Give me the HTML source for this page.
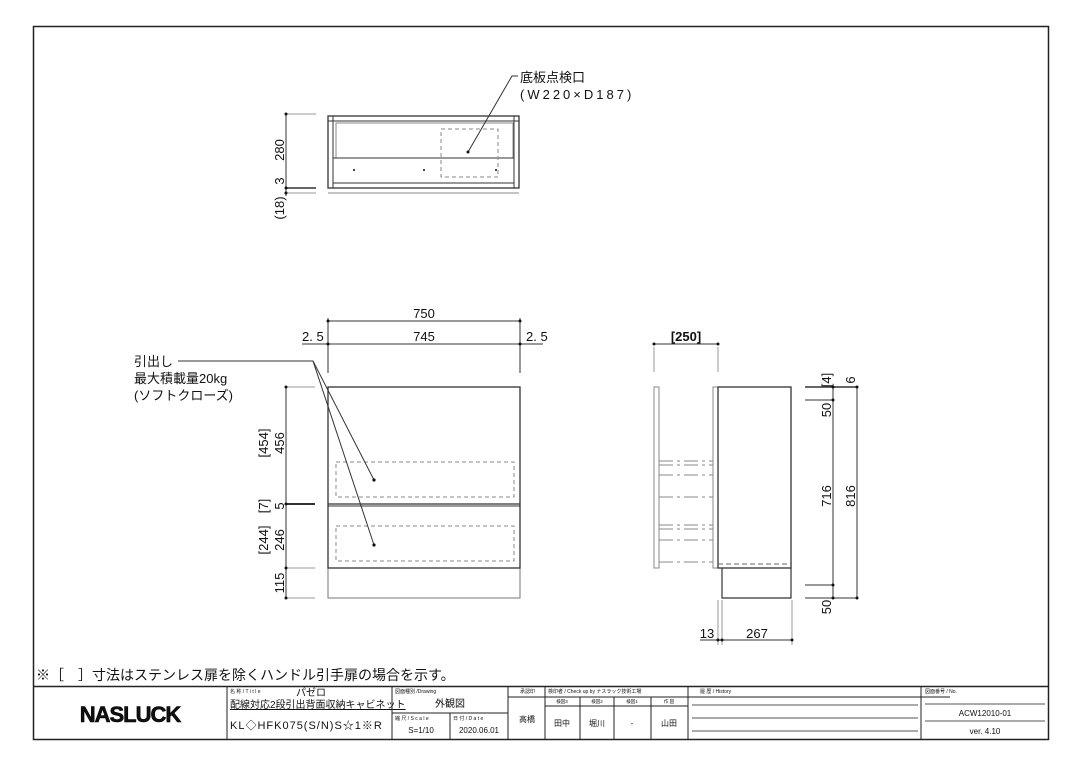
<!DOCTYPE html>
<html><head><meta charset="utf-8"><style>
html,body{margin:0;padding:0;background:#fff;}
svg{display:block;}
text{font-family:"Liberation Sans","Noto Sans CJK JP",sans-serif;fill:#111;}
</style></head><body>
<svg width="1080" height="764" viewBox="0 0 1080 764" xmlns="http://www.w3.org/2000/svg">
<rect x="0" y="0" width="1080" height="764" fill="#fff"/>
<rect x="33.5" y="26.5" width="1015" height="713" fill="none" stroke="#222" stroke-width="1.5"/>

<!-- TOP VIEW -->
<g stroke="#333" fill="none" stroke-width="1">
<rect x="328" y="116" width="191" height="72" stroke-width="1.3"/>
<line x1="328" y1="121" x2="519" y2="121"/>
<line x1="333" y1="116" x2="333" y2="188"/>
<line x1="514" y1="116" x2="514" y2="188"/>
<rect x="336" y="123" width="177" height="35" stroke="#888"/>
<line x1="333" y1="158" x2="514" y2="158"/>
<line x1="333" y1="183" x2="514" y2="183"/>
<line x1="328" y1="193" x2="519" y2="193" stroke="#888"/>
<rect x="441" y="129" width="57" height="48" stroke="#888" stroke-dasharray="4,3"/>
<polyline points="468,152 512,76 518,76" stroke="#333"/>
<line x1="286" y1="114" x2="286" y2="196"/>
<line x1="286" y1="114" x2="316" y2="114" stroke="#999"/>
<line x1="286" y1="188" x2="316" y2="188" stroke-width="1.5"/>
<line x1="286" y1="193" x2="316" y2="193" stroke="#999"/>
</g>
<g fill="#111"><circle cx="468" cy="152" r="1.5"/><circle cx="354" cy="170" r="1"/><circle cx="424" cy="170" r="1"/><circle cx="496" cy="170" r="1"/>
<circle cx="286" cy="114" r="1.5"/><circle cx="286" cy="188" r="1.5"/><circle cx="286" cy="193" r="1.5"/></g>
<text x="520" y="82" font-size="13">底板点検口</text>
<text x="520" y="99" font-size="13" letter-spacing="3">(W220×D187)</text>
<text transform="translate(284,150) rotate(-90)" font-size="13" text-anchor="middle">280</text>
<text transform="translate(284,181) rotate(-90)" font-size="13" text-anchor="middle">3</text>
<text transform="translate(284,208) rotate(-90)" font-size="13" text-anchor="middle">(18)</text>

<!-- FRONT VIEW -->
<g stroke="#333" fill="none" stroke-width="1">
<rect x="328" y="387" width="192" height="211" stroke="#777"/>
<rect x="328" y="387" width="192" height="181" stroke-width="1.3"/>
<line x1="328" y1="504" x2="520" y2="504" stroke-width="1.3"/>
<line x1="328" y1="506" x2="520" y2="506" stroke-width="1"/>
<rect x="336" y="462" width="178" height="35" stroke="#888" stroke-dasharray="4,3"/>
<rect x="336" y="526" width="178" height="35" stroke="#888" stroke-dasharray="4,3"/>
<line x1="328" y1="321" x2="520" y2="321"/>
<line x1="302" y1="344" x2="543" y2="344"/>
<line x1="328" y1="318" x2="328" y2="373"/>
<line x1="520" y1="318" x2="520" y2="373"/>
<polyline points="178,361 313,361 374,480"/>
<line x1="313" y1="361" x2="374" y2="545"/>
<line x1="286" y1="387" x2="286" y2="598"/>
<line x1="286" y1="387" x2="315" y2="387" stroke="#999"/>
<line x1="286" y1="504" x2="315" y2="504" stroke-width="2"/>
<line x1="286" y1="568" x2="315" y2="568" stroke="#999"/>
<line x1="286" y1="598" x2="315" y2="598" stroke="#999"/>
</g>
<g fill="#111"><circle cx="374" cy="480" r="1.6"/><circle cx="374" cy="545" r="1.6"/>
<circle cx="328" cy="321" r="1.5"/><circle cx="520" cy="321" r="1.5"/><circle cx="328" cy="344" r="1.5"/><circle cx="520" cy="344" r="1.5"/>
<circle cx="286" cy="387" r="1.5"/><circle cx="286" cy="504" r="1.5"/><circle cx="286" cy="568" r="1.5"/><circle cx="286" cy="598" r="1.5"/></g>
<text x="424" y="318" font-size="13" text-anchor="middle">750</text>
<text x="424" y="341" font-size="13" text-anchor="middle">745</text>
<text x="302" y="341" font-size="13">2. 5</text>
<text x="526" y="341" font-size="13">2. 5</text>
<text x="134" y="366" font-size="13">引出し</text>
<text x="134" y="383" font-size="13">最大積載量20kg</text>
<text x="134" y="400" font-size="13">(ソフトクローズ)</text>
<text transform="translate(284,443) rotate(-90)" font-size="13" text-anchor="middle">456</text>
<text transform="translate(268,443) rotate(-90)" font-size="13" text-anchor="middle">[454]</text>
<text transform="translate(284,506) rotate(-90)" font-size="13" text-anchor="middle">5</text>
<text transform="translate(268,506) rotate(-90)" font-size="13" text-anchor="middle">[7]</text>
<text transform="translate(284,540) rotate(-90)" font-size="13" text-anchor="middle">246</text>
<text transform="translate(268,540) rotate(-90)" font-size="13" text-anchor="middle">[244]</text>
<text transform="translate(284,583) rotate(-90)" font-size="13" text-anchor="middle">115</text>

<!-- SIDE VIEW -->
<g stroke="#333" fill="none" stroke-width="1">
<rect x="654" y="387" width="5" height="181" stroke="#888"/>
<rect x="713" y="387" width="5" height="181" stroke="#888"/>
<rect x="718" y="387" width="73" height="181" stroke-width="1.3"/>
<polyline points="722,568 722,598 791,598 791,568" stroke-width="1.2"/>
<line x1="718" y1="564" x2="791" y2="564" stroke-dasharray="5,3" stroke="#666"/>
<g stroke="#888" stroke-dasharray="14,4,3,4">
<line x1="659" y1="461" x2="713" y2="461"/><line x1="659" y1="465" x2="713" y2="465"/>
<line x1="659" y1="475" x2="713" y2="475"/><line x1="659" y1="497" x2="713" y2="497"/>
<line x1="659" y1="525" x2="713" y2="525"/><line x1="659" y1="529" x2="713" y2="529"/>
<line x1="659" y1="540" x2="713" y2="540"/><line x1="659" y1="562" x2="713" y2="562"/>
</g>
<line x1="654" y1="344" x2="718" y2="344"/>
<line x1="654" y1="347" x2="654" y2="372" stroke="#999"/>
<line x1="718" y1="347" x2="718" y2="372" stroke="#999"/>
<line x1="833" y1="387" x2="833" y2="598"/>
<line x1="857" y1="387" x2="857" y2="598"/>
<line x1="805" y1="387" x2="857" y2="387" stroke-width="1.6"/>
<line x1="805" y1="400" x2="833" y2="400"/>
<line x1="805" y1="585" x2="833" y2="585"/>
<line x1="805" y1="598" x2="857" y2="598"/>
<line x1="700" y1="640" x2="792" y2="640"/>
<line x1="718" y1="600" x2="718" y2="645" stroke="#999"/>
<line x1="722" y1="600" x2="722" y2="645" stroke="#999"/>
<line x1="792" y1="600" x2="792" y2="645" stroke="#999"/>
</g>
<g fill="#111"><circle cx="654" cy="344" r="1.5"/><circle cx="718" cy="344" r="1.5"/>
<circle cx="833" cy="387" r="1.5"/><circle cx="857" cy="387" r="1.5"/><circle cx="833" cy="400" r="1.5"/><circle cx="833" cy="585" r="1.5"/><circle cx="833" cy="598" r="1.5"/><circle cx="857" cy="598" r="1.5"/>
<circle cx="718" cy="640" r="1.5"/><circle cx="722" cy="640" r="1.5"/><circle cx="792" cy="640" r="1.5"/></g>
<text x="686" y="341" font-size="13" text-anchor="middle" font-weight="bold">[250]</text>
<text transform="translate(831,380) rotate(-90)" font-size="13" text-anchor="middle">[4]</text>
<text transform="translate(855,380) rotate(-90)" font-size="13" text-anchor="middle">6</text>
<text transform="translate(831,410) rotate(-90)" font-size="13" text-anchor="middle">50</text>
<text transform="translate(831,496) rotate(-90)" font-size="13" text-anchor="middle">716</text>
<text transform="translate(855,496) rotate(-90)" font-size="13" text-anchor="middle">816</text>
<text transform="translate(831,607) rotate(-90)" font-size="13" text-anchor="middle">50</text>
<text x="707" y="638" font-size="13" text-anchor="middle">13</text>
<text x="757" y="638" font-size="13" text-anchor="middle">267</text>

<!-- NOTE -->
<text x="36" y="680" font-size="14">※［　］寸法はステンレス扉を除くハンドル引手扉の場合を示す。</text>

<!-- TITLE BLOCK -->
<g stroke="#222" fill="none" stroke-width="1">
<line x1="33" y1="686.5" x2="1048" y2="686.5" stroke-width="1.5"/>
<line x1="227" y1="686" x2="227" y2="740"/>
<line x1="392" y1="686" x2="392" y2="740"/>
<line x1="392" y1="713" x2="508" y2="713"/>
<line x1="450" y1="713" x2="450" y2="740"/>
<line x1="508" y1="686" x2="508" y2="740"/>
<line x1="508" y1="697" x2="545" y2="697"/>
<line x1="545" y1="686" x2="545" y2="740"/>
<line x1="545" y1="697" x2="950" y2="697"/>
<line x1="545" y1="706" x2="688" y2="706"/>
<line x1="580" y1="697" x2="580" y2="740"/>
<line x1="614" y1="697" x2="614" y2="740"/>
<line x1="651" y1="697" x2="651" y2="740"/>
<line x1="688" y1="686" x2="688" y2="740"/>
<line x1="692" y1="705" x2="918" y2="705" stroke="#555"/>
<line x1="692" y1="718" x2="918" y2="718" stroke="#555"/>
<line x1="692" y1="731" x2="918" y2="731" stroke="#555"/>
<line x1="921" y1="686" x2="921" y2="740"/>
<line x1="925" y1="704" x2="1045" y2="704" stroke="#555"/>
<line x1="925" y1="721" x2="1045" y2="721" stroke="#555"/>
</g>
<text x="130" y="722" font-size="22" font-weight="bold" text-anchor="middle" font-family="Liberation Sans" letter-spacing="-1" stroke="#000" stroke-width="0.6">NASLUCK</text>
<text x="230" y="693" font-size="5">名 称 / T i t l e</text>
<text x="296" y="696" font-size="10">パゼロ</text>
<text x="230" y="708" font-size="10" text-decoration="underline">配線対応2段引出背面収納キャビネット</text>
<text x="230" y="729" font-size="11" letter-spacing="1">KL◇HFK075(S/N)S☆1※R</text>
<text x="395" y="693" font-size="5">図面種別 /Drawing</text>
<text x="450" y="707" font-size="10" text-anchor="middle">外観図</text>
<text x="395" y="720" font-size="5">縮 尺 / S c a l e</text>
<text x="421" y="733" font-size="8" text-anchor="middle">S=1/10</text>
<text x="453" y="720" font-size="5">日 付 / D a t e</text>
<text x="479" y="733" font-size="8" text-anchor="middle">2020.06.01</text>
<text x="520" y="693" font-size="5">承認印</text>
<text x="527" y="722" font-size="8" text-anchor="middle">高橋</text>
<text x="548" y="693" font-size="5">検印者 / Check up by ナスラック技術工場</text>
<text x="562" y="703" font-size="4.5" text-anchor="middle">検図3</text>
<text x="597" y="703" font-size="4.5" text-anchor="middle">検図2</text>
<text x="632" y="703" font-size="4.5" text-anchor="middle">検図1</text>
<text x="669" y="703" font-size="4.5" text-anchor="middle">作 図</text>
<text x="562" y="726" font-size="8" text-anchor="middle">田中</text>
<text x="597" y="726" font-size="8" text-anchor="middle">堀川</text>
<text x="632" y="726" font-size="8" text-anchor="middle">-</text>
<text x="669" y="726" font-size="8" text-anchor="middle">山田</text>
<text x="700" y="693" font-size="5">履 歴 / History</text>
<text x="925" y="693" font-size="5">図面番号 / No.</text>
<text x="985" y="716" font-size="8" text-anchor="middle">ACW12010-01</text>
<text x="985" y="734" font-size="8" text-anchor="middle">ver. 4.10</text>
</svg>
</body></html>
